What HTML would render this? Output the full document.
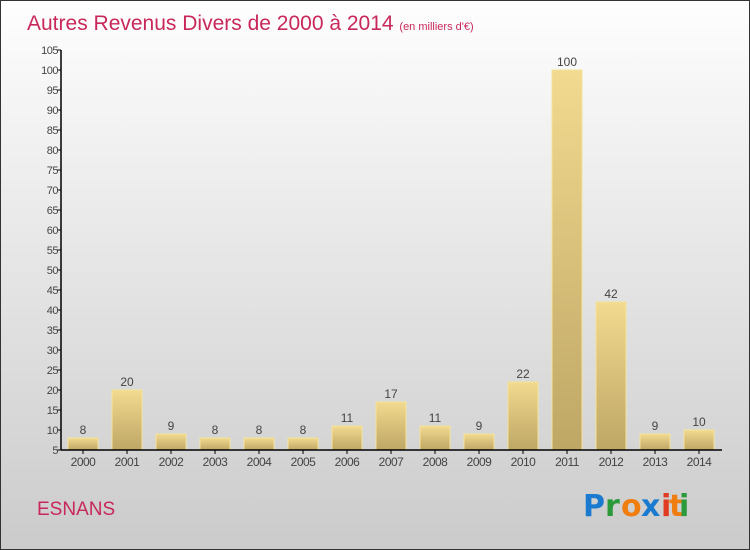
<!DOCTYPE html>
<html><head><meta charset="utf-8"><style>
body{margin:0}
#c{position:relative;width:748px;height:548px;border:1px solid #333;background:linear-gradient(#fefefe,#cbcbcb);overflow:hidden;font-family:"Liberation Sans",sans-serif}
</style></head><body>
<div id="c">
<svg width="748" height="548" id="s">
<defs><linearGradient id="g" x1="0" y1="0" x2="0" y2="1"><stop offset="0" stop-color="#f2da90"/><stop offset="1" stop-color="#bea665"/></linearGradient></defs>
<text x="26" y="29" font-size="21" fill="#c8285a">Autres Revenus Divers de 2000 à 2014 <tspan font-size="11">(en milliers d'€)</tspan></text>
<text x="36" y="514" font-size="19" fill="#c8285a">ESNANS</text>
<g font-size="30" font-family="'DejaVu Sans',sans-serif" font-weight="bold">
<text x="582" y="515" fill="#1a7ad0">P</text><text x="604" y="515" fill="#2a9a3a">r</text><text x="620" y="515" fill="#f07d10">o</text><text x="640" y="515" fill="#1a7ad0">x</text><text x="660" y="515" fill="#e03a20">i</text><text x="668" y="515" fill="#f07d10">t</text><text x="678" y="515" fill="#2a9a3a">i</text>
</g>
<g id="plot"></g>
</svg>
</div>
<script>
const categories=["2000","2001","2002","2003","2004","2005","2006","2007","2008","2009","2010","2011","2012","2013","2014"];
const values=[8,20,9,8,8,8,11,17,11,9,22,100,42,9,10];
const yTicks=[5,10,15,20,25,30,35,40,45,50,55,60,65,70,75,80,85,90,95,100,105];
const NS="http://www.w3.org/2000/svg";
const g=document.getElementById('plot');
const x0=60,step=44,yBase=449,yMin=5,yMax=105,yTop=49;
const y=v=>yBase-(v-yMin)*(yBase-yTop)/(yMax-yMin);
const xc=i=>x0+step*(i+0.5);
function el(t,a){const e=document.createElementNS(NS,t);for(const k in a)e.setAttribute(k,a[k]);g.appendChild(e);return e;}
let e;
yTicks.forEach(t=>{
 e=el('line',{x1:x0-4,x2:x0,y1:y(t),y2:y(t),stroke:'#000'});
 
 
 e=el('text',{x:x0-3,y:y(t)+4,'font-size':11,fill:'#444','text-anchor':'end','letter-spacing':'-0.5'});e.textContent=t;
 
 
});
values.forEach((v,i)=>{
 e=el('rect',{x:xc(i)-15,y:y(v),width:30,height:yBase-y(v),fill:'url(#g)',stroke:'#f5e39a','stroke-width':1});
 
 
 e=el('text',{x:xc(i),y:y(v)-4,'font-size':12,fill:'#444','text-anchor':'middle'});e.textContent=v;
 
 
 e=el('line',{x1:xc(i),x2:xc(i),y1:yBase,y2:yBase+4,stroke:'#000'});
 
 
 e=el('text',{x:xc(i),y:yBase+16,'font-size':12,fill:'#444','text-anchor':'middle','letter-spacing':'-0.5'});e.textContent=categories[i];
 
 
});
e=el('line',{x1:x0,x2:x0,y1:yTop,y2:yBase,stroke:'#000','stroke-width':1.5});


e=el('line',{x1:x0,x2:x0+step*categories.length+1,y1:yBase,y2:yBase,stroke:'#000','stroke-width':1.5});


</script>
</body></html>
